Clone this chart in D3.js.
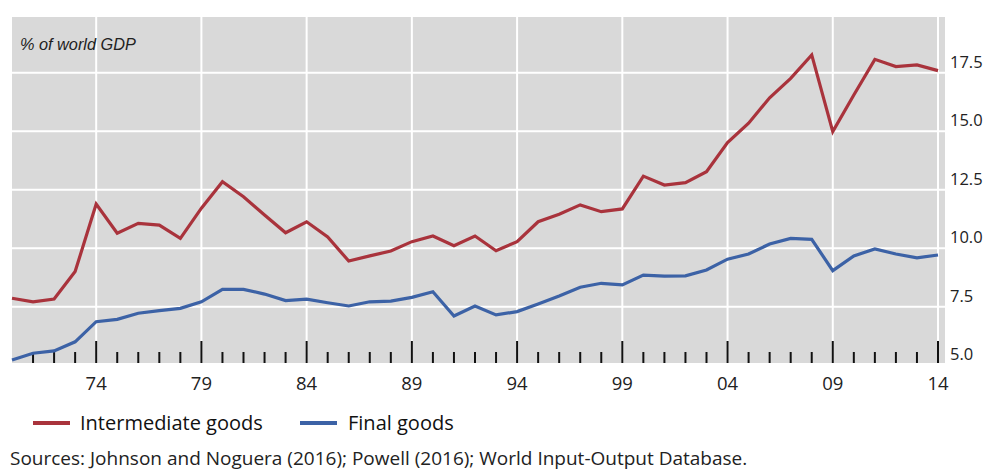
<!DOCTYPE html>
<html>
<head>
<meta charset="utf-8">
<script src="https://cdn.jsdelivr.net/npm/d3@7"></script>
<style>
  html, body { margin: 0; padding: 0; background: #fff; }
  svg { display: block; }
</style>
</head>
<body>
<svg id="chart" width="986" height="473"></svg>
<script>
const years = d3.range(1970, 2015);
const intermediateGoods = [
  7.86, 7.71, 7.83, 9.0, 11.89, 10.64, 11.06, 10.99, 10.42, 11.71,
  12.84, 12.2, 11.42, 10.66, 11.13, 10.48, 9.45, 9.67, 9.88, 10.28,
  10.52, 10.11, 10.52, 9.89, 10.28, 11.13, 11.45, 11.85, 11.56, 11.68,
  13.08, 12.7, 12.8, 13.27, 14.51, 15.34, 16.43, 17.26, 18.26, 14.98,
  16.55, 18.07, 17.76, 17.83, 17.59
];
const finalGoods = [
  5.22, 5.51, 5.61, 6.0, 6.86, 6.96, 7.22, 7.33, 7.43, 7.71,
  8.24, 8.24, 8.04, 7.76, 7.82, 7.67, 7.53, 7.71, 7.74, 7.9,
  8.14, 7.1, 7.53, 7.15, 7.29, 7.62, 7.96, 8.33, 8.5, 8.43,
  8.85, 8.81, 8.82, 9.07, 9.53, 9.75, 10.18, 10.42, 10.38, 9.04,
  9.67, 9.97, 9.75, 9.59, 9.71
];
const majorYears = [1974, 1979, 1984, 1989, 1994, 1999, 2004, 2009, 2014];
const yTicks = [5.0, 7.5, 10.0, 12.5, 15.0, 17.5];
const seriesNames = ["Intermediate goods", "Final goods"];
const seriesColors = ["#a9333c", "#3c62a6"];
const unitLabel = "% of world GDP";
const sourceText = "Sources: Johnson and Noguera (2016); Powell (2016); World Input-Output Database.";

const svg = d3.select("#chart");
const plot = { left: 12, right: 945, top: 17, bottom: 363 };
const FONT = "'Open Sans', 'Noto Sans', sans-serif";

const x = d3.scaleLinear().domain([1970, 2014]).range([12, 938]);
const y = d3.scaleLinear().domain([5, 20]).range([365.2, 14.2]);

// background
svg.append("rect")
  .attr("x", plot.left).attr("y", plot.top)
  .attr("width", plot.right - plot.left).attr("height", plot.bottom - plot.top)
  .attr("fill", "#d9d9d9");

// horizontal grid
svg.append("g").selectAll("line")
  .data(yTicks.filter(v => v > 5))
  .join("line")
  .attr("x1", plot.left).attr("x2", plot.right)
  .attr("y1", d => y(d)).attr("y2", d => y(d))
  .attr("stroke", "#fff").attr("stroke-width", 2);

// vertical grid
svg.append("g").selectAll("line")
  .data(majorYears)
  .join("line")
  .attr("x1", d => x(d)).attr("x2", d => x(d))
  .attr("y1", plot.top).attr("y2", plot.bottom)
  .attr("stroke", "#fff").attr("stroke-width", 2);

// ticks (inside, pointing up)
const tickYears = years.filter(v => v > 1970);
svg.append("g").selectAll("line")
  .data(tickYears)
  .join("line")
  .attr("x1", d => x(d)).attr("x2", d => x(d))
  .attr("y1", d => majorYears.includes(d) ? plot.bottom - 22 : plot.bottom - 11)
  .attr("y2", plot.bottom)
  .attr("stroke", "#111").attr("stroke-width", 2);

// x labels
svg.append("g").selectAll("text")
  .data(majorYears)
  .join("text")
  .attr("x", d => x(d)).attr("y", 390)
  .attr("text-anchor", "middle")
  .attr("font-family", FONT)
  .attr("font-size", 18.5)
  .attr("fill", "#222")
  .text(d => String(d % 100).padStart(2, "0"));

// y labels (right side, sitting above gridlines)
svg.append("g").selectAll("text")
  .data(yTicks)
  .join("text")
  .attr("x", 950).attr("y", d => y(d) - 5)
  .attr("font-family", FONT)
  .attr("font-size", 16.5)
  .attr("fill", "#222")
  .text(d => d.toFixed(1));

// lines
const line = d3.line().x((d, i) => x(years[i])).y(d => y(d));
[intermediateGoods, finalGoods].forEach((vals, k) => {
  svg.append("path")
    .datum(vals)
    .attr("d", line)
    .attr("fill", "none")
    .attr("stroke", seriesColors[k])
    .attr("stroke-width", 3.2)
    .attr("stroke-linejoin", "miter");
});

// unit label
svg.append("text")
  .attr("x", 20).attr("y", 50)
  .attr("font-family", "'Liberation Sans', Arial, sans-serif")
  .attr("font-style", "italic")
  .attr("font-size", 16.3)
  .attr("fill", "#222")
  .text(unitLabel);

// legend
const legendX = [33, 300];
const legendTextX = [80, 348];
seriesNames.forEach((name, k) => {
  svg.append("line")
    .attr("x1", legendX[k]).attr("x2", legendX[k] + 37)
    .attr("y1", 423).attr("y2", 423)
    .attr("stroke", seriesColors[k]).attr("stroke-width", 4);
  svg.append("text")
    .attr("x", legendTextX[k]).attr("y", 429.5)
    .attr("font-family", FONT)
    .attr("font-size", 20)
    .attr("fill", "#111")
    .text(name);
});

// source
svg.append("text")
  .attr("x", 10).attr("y", 465)
  .attr("font-family", FONT)
  .attr("font-size", 19)
  .attr("fill", "#222")
  .text(sourceText);
</script>
</body>
</html>
